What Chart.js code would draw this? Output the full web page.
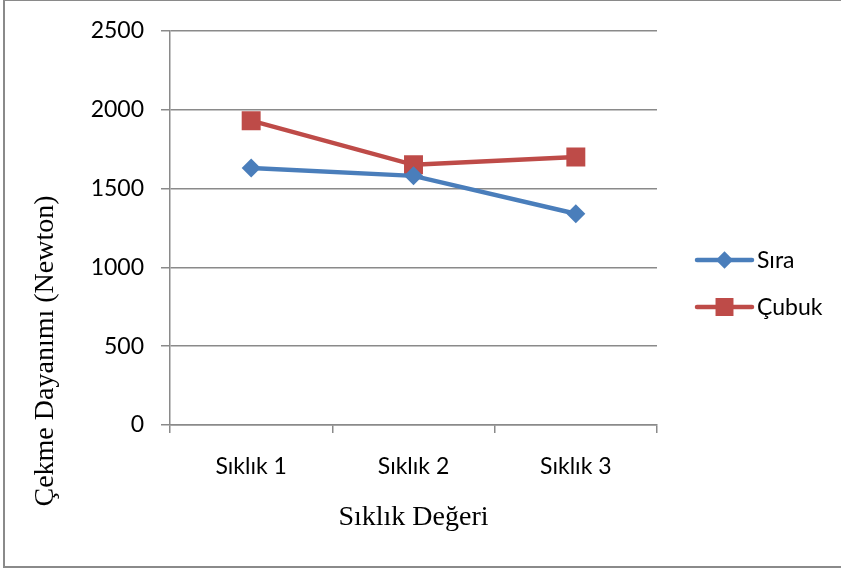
<!DOCTYPE html>
<html>
<head>
<meta charset="utf-8">
<script src="https://cdn.jsdelivr.net/npm/chart.js@4.4.0/dist/chart.umd.min.js"></script>
<style>
  html, body { margin: 0; padding: 0; background: #ffffff; }
  #wrap { width: 841px; height: 572px; }
</style>
</head>
<body>
<div id="wrap"><canvas id="c" width="841" height="572"></canvas></div>
<script>
// Categories, series and axis ticks
const categories = ['Sıklık 1', 'Sıklık 2', 'Sıklık 3'];
const seriesNames = ['Sıra', 'Çubuk'];
const siraValues = [1630, 1580, 1340];
const cubukValues = [1930, 1650, 1700];
const yTickMin = 0;
const yTickMax = 2500;
const yTickStep = 500;
const xAxisTitle = 'Sıklık Değeri';
const yAxisTitle = 'Çekme Dayanımı (Newton)';

const BLUE = '#4A7EBB';
const RED = '#BE4B48';
const GRID = '#8a8a8a';
const SANS = 'Lato';
const SERIF = '"Liberation Serif"';

// White background, outer frame, rotated y title and the legend
const decorations = {
  id: 'decorations',
  beforeDraw(chart) {
    const ctx = chart.ctx;
    ctx.save();
    ctx.fillStyle = '#ffffff';
    ctx.fillRect(0, 0, chart.width, chart.height);
    ctx.strokeStyle = GRID;
    ctx.lineWidth = 2;
    ctx.strokeRect(4, 0, chart.width + 10, 567);
    ctx.restore();
  },
  afterDraw(chart) {
    const ctx = chart.ctx;
    const area = chart.chartArea;
    ctx.save();
    // y axis title
    ctx.translate(46, area.bottom - 74);
    ctx.rotate(-Math.PI / 2);
    ctx.font = '28px ' + SERIF;
    ctx.fillStyle = '#000';
    ctx.textAlign = 'center';
    ctx.textBaseline = 'middle';
    ctx.fillText(yAxisTitle, 0, 0);
    ctx.restore();

    // legend
    const lx0 = area.right + 40, lx1 = area.right + 95;
    chart.data.datasets.forEach((ds, i) => {
      const y = 260 + i * 47;
      ctx.save();
      ctx.strokeStyle = ds.borderColor;
      ctx.lineWidth = 4.5;
      ctx.lineCap = 'round';
      ctx.beginPath();
      ctx.moveTo(lx0, y);
      ctx.lineTo(lx1, y);
      ctx.stroke();
      ctx.fillStyle = ds.pointBackgroundColor;
      ctx.strokeStyle = ds.pointBackgroundColor;
      Chart.helpers.drawPoint(ctx, {
        pointStyle: ds.pointStyle,
        radius: ds.legendRadius,
        borderWidth: 0,
        rotation: 0
      }, (lx0 + lx1) / 2, y);
      ctx.fillStyle = '#000';
      ctx.font = '23px ' + SANS;
      ctx.textAlign = 'left';
      ctx.textBaseline = 'middle';
      ctx.fillText(ds.label, lx1 + 5, y + 1);
      ctx.restore();
    });
  }
};

new Chart(document.getElementById('c'), {
  type: 'line',
  data: {
    labels: categories,
    datasets: [
      {
        label: seriesNames[0],
        data: siraValues,
        borderColor: BLUE,
        backgroundColor: BLUE,
        pointBackgroundColor: BLUE,
        pointBorderColor: BLUE,
        borderWidth: 4.5,
        pointStyle: 'rectRot',
        pointRadius: 9.5,
        pointHoverRadius: 9.5,
        pointBorderWidth: 0,
        legendRadius: 8.7,
        tension: 0
      },
      {
        label: seriesNames[1],
        data: cubukValues,
        borderColor: RED,
        backgroundColor: RED,
        pointBackgroundColor: RED,
        pointBorderColor: RED,
        borderWidth: 4.5,
        pointStyle: 'rect',
        pointRadius: 13.4,
        pointHoverRadius: 13.4,
        pointBorderWidth: 0,
        legendRadius: 12.7,
        tension: 0
      }
    ]
  },
  options: {
    responsive: false,
    animation: false,
    devicePixelRatio: 1,
    layout: { padding: { top: 29, right: 184, left: 0, bottom: 0 } },
    plugins: {
      legend: { display: false },
      tooltip: { enabled: false },
      title: { display: false }
    },
    scales: {
      x: {
        type: 'category',
        offset: true,
        afterFit(scale) { scale.height = 147; },
        grid: {
          offset: true,
          drawOnChartArea: false,
          drawTicks: true,
          tickLength: 8,
          color: GRID,
          lineWidth: 1.5
        },
        border: { display: true, color: GRID, width: 1.5 },
        ticks: {
          color: '#000',
          font: { family: SANS, size: 23 },
          padding: 20,
          maxRotation: 0
        },
        title: {
          display: true,
          text: xAxisTitle,
          color: '#000',
          font: { family: SERIF, size: 28 },
          padding: { top: 0, bottom: 38 }
        }
      },
      y: {
        min: yTickMin,
        max: yTickMax,
        afterFit(scale) { scale.width = 170; },
        grid: {
          color: GRID,
          lineWidth: 1.5,
          drawTicks: true,
          tickLength: 9
        },
        border: { display: true, color: GRID, width: 1.5 },
        ticks: {
          stepSize: yTickStep,
          color: '#000',
          font: { family: SANS, size: 23 },
          padding: 17,
          callback: (value) => String(value)
        }
      }
    }
  },
  plugins: [decorations]
});
</script>
</body>
</html>
